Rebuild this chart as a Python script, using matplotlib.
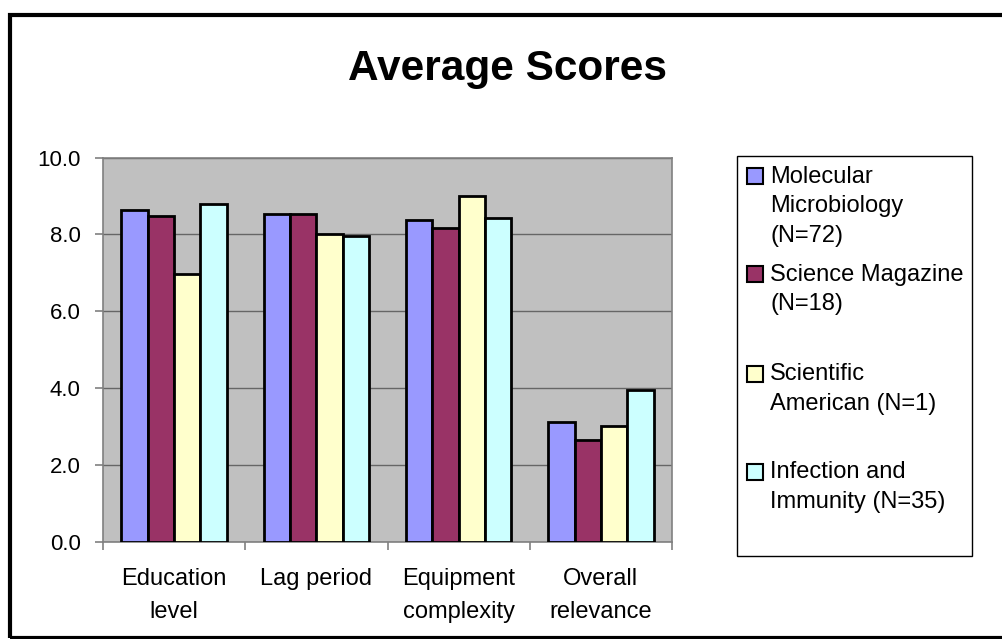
import matplotlib
matplotlib.use("Agg")
import matplotlib.pyplot as plt
from matplotlib.patches import Rectangle
import numpy as np

plt.rcParams['font.family'] = ['Liberation Sans', 'DejaVu Sans']

categories = ['Education\nlevel', 'Lag period', 'Equipment\ncomplexity', 'Overall\nrelevance']
series_names = ['Molecular\nMicrobiology\n(N=72)', 'Science Magazine\n(N=18)',
                'Scientific\nAmerican (N=1)', 'Infection and\nImmunity (N=35)']
mol_micro = [8.63, 8.52, 8.37, 3.12]
sci_mag = [8.48, 8.52, 8.16, 2.65]
sci_am = [6.96, 8.00, 9.00, 3.02]
inf_imm = [8.79, 7.96, 8.42, 3.96]
yticks = [0, 2, 4, 6, 8, 10]

series = [mol_micro, sci_mag, sci_am, inf_imm]
colors = ['#9999FF', '#993366', '#FFFFCC', '#CCFFFF']

W, H = 1003, 639
fig = plt.figure(figsize=(W / 100, H / 100), dpi=100)

# outer chart border (extends past right edge like the original)
fig.patches.append(Rectangle((10 / W, 1 - 637.5 / H), 1.05, (637.5 - 14.5) / H,
                             transform=fig.transFigure, fill=False,
                             edgecolor='black', lw=3))

ax = fig.add_axes([103 / W, 1 - 541.7 / H, 569 / W, 384.2 / H])
ax.set_facecolor('#C0C0C0')

x = np.arange(len(categories))
bw = 0.185
for j, vals in enumerate(series):
    ax.bar(x + (j - 1.5) * bw, vals, bw, color=colors[j], edgecolor='black',
           linewidth=2, zorder=3)

ax.set_xlim(-0.5, 3.5)
ax.set_ylim(0, 10)
ax.set_yticks(yticks)
ax.set_yticklabels([f'{v:.1f}' for v in yticks])
ax.yaxis.grid(True, color='#666666', lw=1, zorder=1)
for s in ax.spines.values():
    s.set_color('#808080')
    s.set_linewidth(1.2)

ax.set_xticks(x)
ax.set_xticklabels(categories)
ax.set_xticks(np.arange(-0.5, 4, 1), minor=True)
ax.tick_params(axis='x', which='major', length=0, pad=19, labelsize=17)
ax.tick_params(axis='x', which='minor', length=6, color='#808080', width=1.2)
ax.tick_params(axis='y', length=6, color='#808080', width=1.2, pad=10, labelsize=16)
for lab in ax.get_xticklabels():
    lab.set_linespacing(1.62)

fig.text(508 / W, 1 - 80 / H, 'Average Scores', ha='center', va='baseline',
         fontsize=30.5, fontweight='bold')

# legend box drawn like the Excel one
fig.patches.append(Rectangle((737.3 / W, 1 - 555.7 / H), 234.4 / W, 400 / H,
                             transform=fig.transFigure, facecolor='white',
                             edgecolor='black', lw=1))
rows = [176, 274, 374, 472]
for name, c, yc in zip(series_names, colors, rows):
    fig.patches.append(Rectangle((747 / W, 1 - (yc + 8) / H), 16 / W, 16 / H,
                                 transform=fig.transFigure, facecolor=c,
                                 edgecolor='black', lw=1.5))
    fig.text(770 / W, 1 - (yc - 10.5) / H, name, ha='left', va='top',
             fontsize=17, linespacing=1.47)

fig.savefig('out.png', dpi=100)
